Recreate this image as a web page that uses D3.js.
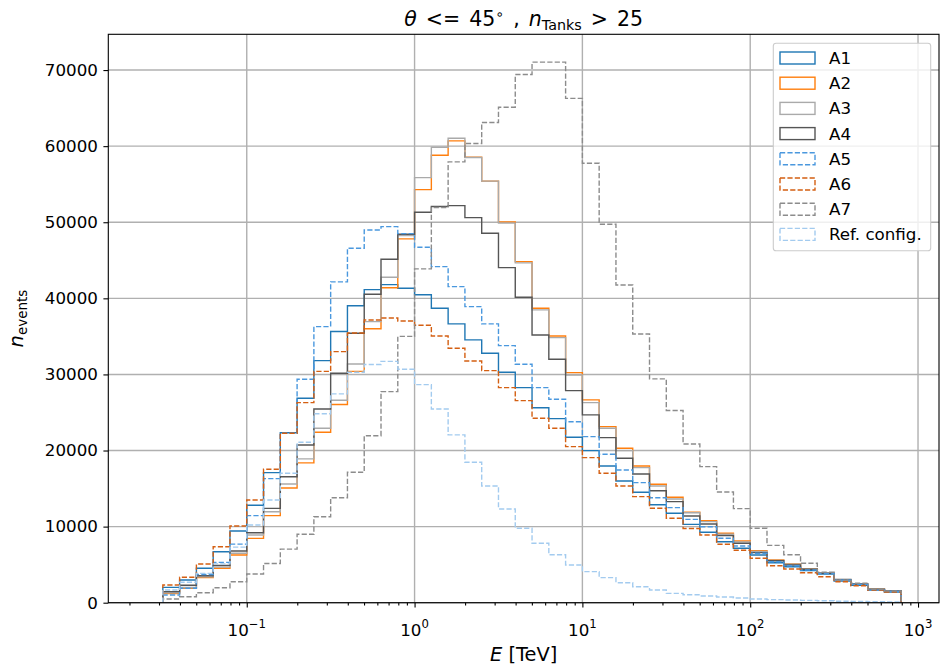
<!DOCTYPE html>
<html>
<head>
<meta charset="utf-8">
<script src="https://cdn.jsdelivr.net/npm/d3@7"></script>
<style>
body { margin: 0; background: #fff; }
svg { display: block; font-family: "DejaVu Sans", sans-serif; }
</style>
</head>
<body>
<svg id="svg1" width="940" height="668"></svg>
<script>
// bin edges, log10(E / TeV)
var edgeExp = [-1.5, -1.4, -1.3, -1.2, -1.1, -1.0, -0.9, -0.8, -0.7, -0.6,
               -0.5, -0.4, -0.3, -0.2, -0.1, 0.0, 0.1, 0.2, 0.3, 0.4,
               0.5, 0.6, 0.7, 0.8, 0.9, 1.0, 1.1, 1.2, 1.3, 1.4,
               1.5, 1.6, 1.7, 1.8, 1.9, 2.0, 2.1, 2.2, 2.3, 2.4,
               2.5, 2.6, 2.7, 2.8, 2.9];

var A1 = [2020, 2980, 4520, 6700, 9430, 12800, 17100, 22330, 26870, 31810, 35650, 39020, 41150, 41800, 41330,
          40470, 38700, 36640, 34540, 32780, 30290, 28260, 25630, 24190, 21740, 19980, 17970, 16000, 14510, 12880,
          11750, 10300, 9250, 8020, 7150, 6270, 5260, 4730, 4210, 3770, 2850, 2290, 1670, 1410];
var A2 = [1200, 1900, 3290, 4520, 6270, 8460, 11440, 15080, 18370, 22400, 26050, 30400, 36000, 41400, 47810,
          54290, 58810, 60690, 58550, 55400, 50050, 44830, 38700, 35060, 30240, 26650, 23140, 20300, 17970, 15560,
          13860, 11900, 10780, 9120, 8110, 6840, 5610, 5090, 4430, 3940, 2980, 2460, 1760, 1580];
var A3 = [1300, 2000, 3400, 4700, 6500, 8900, 11960, 15600, 18900, 22920, 26600, 31380, 36940, 42780, 48250,
          55870, 59860, 61040, 58500, 55400, 49880, 44660, 38480, 34840, 29930, 26290, 22920, 19980, 17750, 15340,
          13630, 11830, 10650, 9000, 8000, 6750, 5550, 5050, 4400, 3900, 3000, 2450, 1750, 1560];
var A4 = [1450, 2300, 3550, 4900, 6800, 9200, 12400, 16560, 20730, 25460, 30150, 35410, 40540, 45140, 48430,
          51320, 52060, 52190, 50610, 48560, 44040, 40150, 35190, 32000, 27870, 24680, 21690, 18980, 16920, 14720,
          13280, 11400, 10350, 8810, 7810, 6580, 5520, 4960, 4390, 3860, 3070, 2460, 1760, 1540];
var A5 = [1010, 1900, 3700, 5300, 7700, 11440, 16300, 22260, 29360, 36280, 42160, 46590, 48990, 49430, 48500,
          46720, 44170, 41540, 38910, 36640, 33790, 31340, 28260, 26740, 23790, 21820, 19510, 17440, 15780, 13800,
          12490, 10950, 9990, 8470, 7450, 6490, 5390, 4860, 4300, 3860, 2980, 2420, 1670, 1500];
var A6 = [2330, 3340, 5090, 7360, 10080, 13500, 17530, 22260, 26300, 30400, 33000, 35450, 37160, 37420, 37030,
          36460, 35060, 33440, 31770, 30500, 28260, 26560, 24240, 22920, 20510, 19060, 17010, 15340, 13940, 12410,
          11090, 9760, 8900, 7680, 6890, 5840, 4860, 4430, 3940, 3420, 2760, 2230, 1670, 1410];
var A7 = [490, 790, 1310, 1970, 2760, 3770, 5150, 7040, 8990, 11300, 13800, 17140, 21950, 27740, 35000,
          43870, 51930, 57930, 60340, 63100, 65120, 69410, 71040, 71040, 66280, 57760, 49740, 41760, 35320, 29410,
          25260, 20860, 17880, 14550, 12360, 9780, 7540, 6310, 5180, 4000, 2980, 2550, 1760, 1540];
var Ref = [1670, 2680, 3860, 5100, 7300, 10210, 13500, 17010, 21090, 24830, 27450, 30290, 31300, 31720, 30680,
           28660, 25460, 22050, 18460, 15340, 12320, 9780, 7810, 6310, 4960, 4080, 3290, 2630, 2100, 1670,
           1230, 1050, 880, 750, 620, 490, 400, 350, 300, 250, 200, 170, 130, 100];

var seriesNames = ['A1', 'A2', 'A3', 'A4', 'A5', 'A6', 'A7', 'Ref. config.'];
var seriesData = [A1, A2, A3, A4, A5, A6, A7, Ref];
var seriesColors = ['#1f77b4', '#ff7f0e', '#aaaaaa', '#555555', '#4a98de', '#d45f12', '#8c8c8c', '#a3cbef'];
var seriesDashed = [false, false, false, false, true, true, true, true];

var xMajor = [0.1, 1, 10, 100, 1000];
var xMajorExp = ['\u22121', '0', '1', '2', '3'];
var yTicks = [0, 10000, 20000, 30000, 40000, 50000, 60000, 70000];

function drawChart() {
    var svg = d3.select('#svg1');
    var pl = 108.3, pr = 939, pt = 34.3, pb = 602.7;
    var fs = 16.7;      // tick and legend text
    var fsLabel = 19.4; // axis labels

    var xScale = d3.scaleLog()
        .domain([Math.pow(10, -1.825), Math.pow(10, 3.125)])
        .range([pl, pr]);
    var yScale = d3.scaleLinear()
        .domain([0, 74700])
        .range([pb, pt]);

    var edges = edgeExp.map(function(e){ return Math.pow(10, e); });

    // minor ticks 2..9 x 10^k inside the domain
    var xMinor = [];
    [-2, -1, 0, 1, 2, 3].forEach(function(k){
        for (var m = 2; m <= 9; m++) {
            var v = m * Math.pow(10, k);
            if (v > xScale.domain()[0] && v < xScale.domain()[1]) xMinor.push(v);
        }
    });

    // grid
    var grid = svg.append('g');
    grid.selectAll('.gx').data(xMajor).enter().append('line')
        .attr('x1', function(d){ return xScale(d); })
        .attr('x2', function(d){ return xScale(d); })
        .attr('y1', pt).attr('y2', pb)
        .attr('stroke', '#b0b0b0').attr('stroke-width', 1.4);
    grid.selectAll('.gy').data(yTicks).enter().append('line')
        .attr('x1', pl).attr('x2', pr)
        .attr('y1', function(d){ return yScale(d); })
        .attr('y2', function(d){ return yScale(d); })
        .attr('stroke', '#b0b0b0').attr('stroke-width', 1.4);

    svg.append('clipPath').attr('id', 'clip')
        .append('rect').attr('x', pl).attr('y', pt)
        .attr('width', pr - pl).attr('height', pb - pt);

    function stepPoints(vals) {
        var pts = [[edges[0], 0]];
        vals.forEach(function(v, i){
            pts.push([edges[i], v]);
            pts.push([edges[i + 1], v]);
        });
        pts.push([edges[vals.length], 0]);
        return pts;
    }

    var line = d3.line()
        .x(function(d){ return xScale(d[0]); })
        .y(function(d){ return yScale(d[1]); });

    var lines = svg.append('g').attr('clip-path', 'url(#clip)');
    seriesData.forEach(function(vals, i){
        lines.append('path')
            .attr('d', line(stepPoints(vals)))
            .attr('fill', 'none')
            .attr('stroke', seriesColors[i])
            .attr('stroke-width', 1.4)
            .attr('stroke-dasharray', seriesDashed[i] ? '5.2,2.2' : null);
    });

    // axes
    svg.append('g').attr('transform', 'translate(0,' + pb + ')')
        .call(d3.axisBottom(xScale).tickValues(xMajor).tickSize(4.9).tickFormat(''));
    svg.append('g').attr('transform', 'translate(0,' + pb + ')')
        .call(d3.axisBottom(xScale).tickValues(xMinor).tickSize(2.8).tickFormat(''));
    var yAxis = svg.append('g').attr('transform', 'translate(' + pl + ',0)')
        .call(d3.axisLeft(yScale).tickValues(yTicks).tickSize(4.9).tickPadding(5.5).tickFormat(d3.format('d')));
    svg.selectAll('.domain').remove();
    svg.selectAll('.tick line').attr('stroke', '#000').attr('stroke-width', 1.1);
    yAxis.selectAll('text').attr('font-family', 'DejaVu Sans').attr('font-size', fs).attr('fill', '#000');

    var xl = svg.append('g');
    xMajor.forEach(function(d, i){
        var t = xl.append('text')
            .attr('x', xScale(d)).attr('y', 635.5)
            .attr('text-anchor', 'middle')
            .attr('font-size', fs).attr('fill', '#000');
        t.append('tspan').text('10');
        t.append('tspan').attr('dy', -7.5).attr('font-size', 11.7).text(xMajorExp[i]);
    });

    // spines
    svg.append('rect')
        .attr('x', pl).attr('y', pt)
        .attr('width', pr - pl).attr('height', pb - pt)
        .attr('fill', 'none').attr('stroke', '#000').attr('stroke-width', 1.1);

    // title
    var title = svg.append('text')
        .attr('x', (pl + pr) / 2).attr('y', 26)
        .attr('text-anchor', 'middle').attr('font-size', 20.5).attr('fill', '#000')
        .attr('word-spacing', 2.5)
        .attr('xml:space', 'preserve');
    title.append('tspan').attr('font-style', 'italic').text('\u03b8');
    title.append('tspan').text(' <= 45');
    title.append('tspan').attr('dy', -7.5).attr('font-size', 14.3).text('\u2218');
    title.append('tspan').attr('dy', 7.5).text(' , ');
    title.append('tspan').attr('font-style', 'italic').text('n');
    title.append('tspan').attr('dy', 4).attr('font-size', 14.3).text('Tanks');
    title.append('tspan').attr('dy', -4).text(' > 25');

    // axis labels
    var xlab = svg.append('text')
        .attr('x', (pl + pr) / 2).attr('y', 661)
        .attr('text-anchor', 'middle').attr('font-size', fsLabel).attr('fill', '#000');
    xlab.append('tspan').attr('font-style', 'italic').text('E');
    xlab.append('tspan').text(' [TeV]');

    var ylab = svg.append('text')
        .attr('transform', 'translate(23,' + ((pt + pb) / 2) + ') rotate(-90)')
        .attr('text-anchor', 'middle').attr('font-size', fsLabel).attr('fill', '#000');
    ylab.append('tspan').attr('font-style', 'italic').text('n');
    ylab.append('tspan').attr('dy', 4).attr('font-size', 13.5).text('events');

    // legend
    var lg = svg.append('g');
    lg.append('rect')
        .attr('x', 773.3).attr('y', 43.3).attr('width', 157.4).attr('height', 207.4)
        .attr('rx', 2.8).attr('ry', 2.8)
        .attr('fill', '#fff').attr('fill-opacity', 0.8)
        .attr('stroke', '#cccccc').attr('stroke-width', 1.1);
    seriesNames.forEach(function(name, i){
        var cy = 58 + i * 25.2;
        lg.append('rect')
            .attr('x', 780).attr('y', cy - 6).attr('width', 35).attr('height', 12)
            .attr('fill', 'none').attr('stroke', seriesColors[i]).attr('stroke-width', 1.4)
            .attr('stroke-dasharray', seriesDashed[i] ? '5.2,2.2' : null);
        lg.append('text')
            .attr('x', 829).attr('y', cy + 6)
            .attr('font-size', fs).attr('fill', '#000')
            .text(name);
    });
}

drawChart();
</script>
</body>
</html>
